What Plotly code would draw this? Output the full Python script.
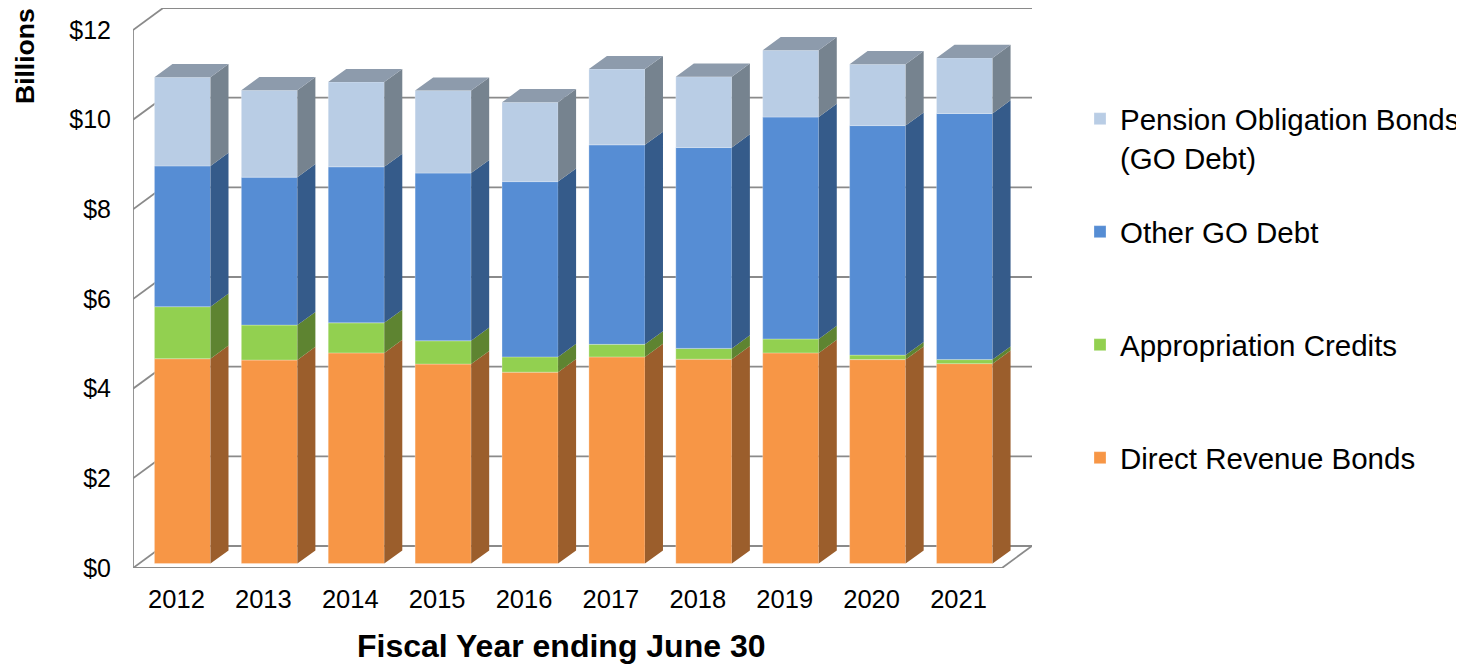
import plotly.graph_objects as go

# ---------------- data (billions of dollars) ----------------
years = ["2012", "2013", "2014", "2015", "2016", "2017", "2018", "2019", "2020", "2021"]
direct_revenue = [4.57, 4.54, 4.70, 4.45, 4.27, 4.61, 4.56, 4.70, 4.55, 4.46]
appropriation = [1.16, 0.78, 0.67, 0.52, 0.34, 0.28, 0.24, 0.31, 0.10, 0.09]
other_go = [3.14, 3.30, 3.48, 3.74, 3.91, 4.45, 4.48, 4.95, 5.12, 5.49]
pension_go = [1.98, 1.94, 1.89, 1.84, 1.77, 1.69, 1.58, 1.49, 1.37, 1.24]

series_names = ["Direct Revenue Bonds", "Appropriation Credits", "Other GO Debt",
                "Pension Obligation Bonds<br>(GO Debt)"]
series_values = [direct_revenue, appropriation, other_go, pension_go]
front_colors = ["#F79646", "#92D050", "#568DD4", "#B9CDE5"]
side_colors = ["#9B5E2C", "#5E8431", "#355B8A", "#76838F"]
top_color = "#8D9BAC"
y_ticks = [0, 2, 4, 6, 8, 10, 12]
y_tick_text = ["$" + str(v) for v in y_ticks]

# ---------------- pseudo-3D geometry (in axis units) ----------------
DX, DY = 0.3456, 0.4907          # full depth of the chart box
fx, fy = 0.2 * DX, 0.2 * DY      # offset of bar front faces
bdx, bdy = 0.6 * DX, 0.6 * DY    # depth of the bars
W = 0.645                        # bar width
idx = list(range(len(years)))
FONT = "Liberation Sans, Arial, sans-serif"

fig = go.Figure()

# side faces first
cum = [0.0] * len(years)
bases_all = []
for s, vals in enumerate(series_values):
    bases = [c + fy for c in cum]
    bases_all.append(bases)
    px, py = [], []
    for i, v in enumerate(vals):
        xr = i + fx + W / 2
        b = bases[i]
        t = b + v
        px += [xr, xr + bdx, xr + bdx, xr, xr, None]
        py += [b, b + bdy, t + bdy, t, b, None]
    fig.add_trace(go.Scatter(x=px, y=py, mode="lines", fill="toself",
                             fillcolor=side_colors[s], line=dict(width=0),
                             hoverinfo="skip", showlegend=False))
    cum = [c + v for c, v in zip(cum, vals)]

# top faces
px, py = [], []
for i in idx:
    xl = i + fx - W / 2
    xr = i + fx + W / 2
    T = cum[i] + fy
    px += [xl, xl + bdx, xr + bdx, xr, xl, None]
    py += [T, T + bdy, T + bdy, T, T, None]
fig.add_trace(go.Scatter(x=px, y=py, mode="lines", fill="toself",
                         fillcolor=top_color, line=dict(width=0),
                         hoverinfo="skip", showlegend=False))

# front faces (real bar traces)
legend_ids = ["legend4", "legend3", "legend2", "legend"]
for s, vals in enumerate(series_values):
    fig.add_trace(go.Bar(
        x=[i + fx for i in idx], y=vals, base=bases_all[s], width=W,
        name=series_names[s], marker=dict(color=front_colors[s],
                                          line=dict(color="rgba(255,255,255,0.45)", width=0.6)),
        legend=legend_ids[s],
        customdata=years, hovertemplate="%{customdata}: $%{y:.2f}B<extra>" + series_names[s] + "</extra>",
    ))

# ---------------- box / gridlines ----------------
GRID = dict(color="#8A8A8A", width=1.8)
shapes = []
x0, x1 = -0.5, len(years) - 0.5
for v in y_ticks:
    shapes.append(dict(type="line", xref="x", yref="y", x0=x0 + DX, x1=x1 + DX,
                       y0=v + DY, y1=v + DY, line=GRID, layer="below"))
    shapes.append(dict(type="line", xref="x", yref="y", x0=x0, x1=x0 + DX,
                       y0=v, y1=v + DY, line=GRID, layer="below"))
shapes.append(dict(type="line", xref="x", yref="y", x0=x0, x1=x0, y0=0, y1=y_ticks[-1],
                   line=GRID, layer="below"))
shapes.append(dict(type="line", xref="x", yref="y", x0=x0, x1=x1, y0=0, y1=0,
                   line=GRID, layer="below"))
shapes.append(dict(type="line", xref="x", yref="y", x0=x1, x1=x1 + DX, y0=0, y1=DY,
                   line=GRID, layer="below"))

# ---------------- layout ----------------
OFF = 8                              # page body margin
Wd, Ht = 1464 - OFF, 665 - OFF
L, R, T, B = 133 - OFF, 1032 - OFF, 8 - OFF, 568 - OFF
def xp(p):
    return (p - OFF - L) / (R - L)
def yp(p):
    return (B - (p - OFF)) / (B - T)

leg_common = dict(font=dict(family=FONT, size=29.5, color="black"), bgcolor="rgba(0,0,0,0)",
                  borderwidth=0, xanchor="left", x=xp(1080))

fig.update_layout(
    width=Wd, height=Ht,
    margin=dict(l=L, r=Wd - R, t=T, b=Ht - B, autoexpand=False),
    paper_bgcolor="white", plot_bgcolor="white",
    barmode="overlay",
    font=dict(family=FONT, color="black"),
    shapes=shapes,
    xaxis=dict(range=[x0, x1 + DX], tickmode="array", tickvals=idx, ticktext=years,
               showgrid=False, zeroline=False, showline=False, ticks="",
               tickfont=dict(family=FONT, size=25.5, color="black"), ticklabelstandoff=13,
               fixedrange=True, automargin=False),
    yaxis=dict(range=[0, y_ticks[-1] + DY], tickmode="array", tickvals=y_ticks,
               ticktext=y_tick_text, showgrid=False, zeroline=False, showline=False,
               ticks="", tickfont=dict(family=FONT, size=25, color="black"),
               ticklabelstandoff=21, fixedrange=True, automargin=False),
    legend=dict(**leg_common, y=yp(93), yanchor="top", valign="top"),
    legend2=dict(**leg_common, y=yp(232), yanchor="middle"),
    legend3=dict(**leg_common, y=yp(345), yanchor="middle"),
    legend4=dict(**leg_common, y=yp(458), yanchor="middle"),
    annotations=[
        dict(text="<b>Billions</b>", xref="paper", yref="paper", x=xp(25), y=yp(56),
             textangle=-90, showarrow=False, font=dict(family=FONT, size=26.5, color="black"),
             xanchor="center", yanchor="middle"),
        dict(text="<b>Fiscal Year ending June 30</b>", xref="paper", yref="paper",
             x=xp(561), y=yp(646), showarrow=False,
             font=dict(family=FONT, size=32, color="black"),
             xanchor="center", yanchor="middle"),
    ],
)

fig.write_html("out.html")
